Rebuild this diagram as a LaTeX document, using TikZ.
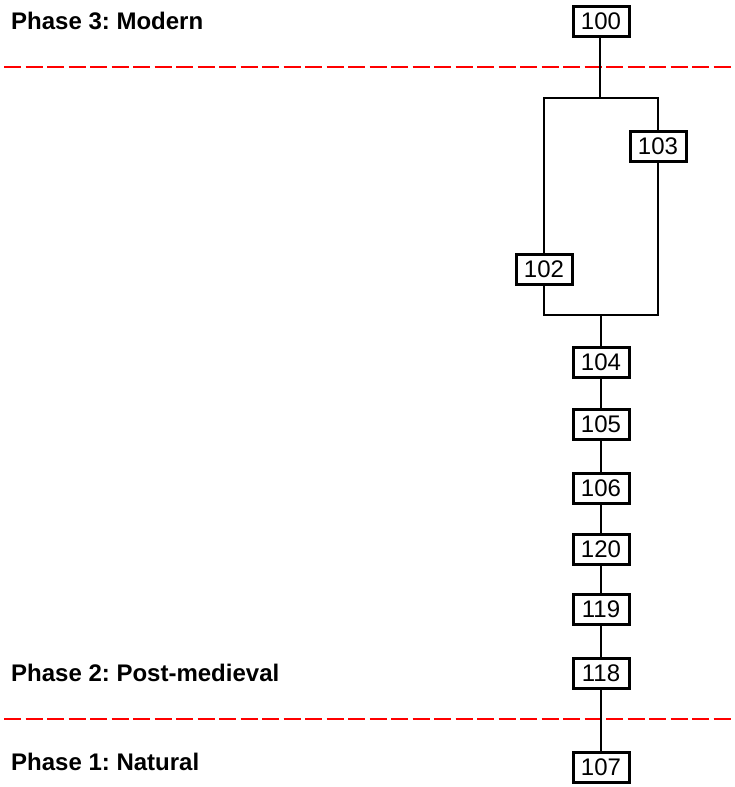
\documentclass[tikz,border=0pt]{standalone}
\usepackage{fontspec}
\setmainfont{Liberation Sans}
\frenchspacing
\begin{document}
\begin{tikzpicture}[x=1pt,y=-1pt,
  ctx/.style={draw=black,line width=3pt,minimum width=56pt,minimum height=30pt,
    inner sep=0pt,font=\fontsize{24}{28}\selectfont,fill=white},
  link/.style={draw=black,line width=2pt},
  phase/.style={red,line width=2pt,dash pattern=on 17pt off 4.5pt},
  phaselabel/.style={anchor=base west,inner sep=0pt,font=\fontsize{24}{28}\selectfont\bfseries}]
\useasboundingbox (0,0) rectangle (735,787);

% phase boundaries
\coordinate (b1a) at (4,66.5);  \coordinate (b1b) at (735,66.5);
\coordinate (b2a) at (4,719);   \coordinate (b2b) at (735,719);
\draw[phase] (b1a) -- (b1b);
\draw[phase] (b2a) -- (b2b);

% phase labels
\node[phaselabel] (p3) at (11,29.3) {Phase 3: Modern};
\node[phaselabel] (p2) at (11,681.7) {Phase 2: Post-medieval};
\node[phaselabel] (p1) at (11,770) {Phase 1: Natural};

% junctions
\coordinate (j1) at (600,98);
\coordinate (j2) at (601,315);

% contexts
\node[ctx] (c100) at (601,21.5) {100};
\node[ctx] (c103) at (658,146) {103};
\node[ctx] (c102) at (544,269.5) {102};
\node[ctx] (c104) at (601,362.5) {104};
\node[ctx] (c105) at (601,424.5) {105};
\node[ctx] (c106) at (601,488.5) {106};
\node[ctx] (c120) at (601,549) {120};
\node[ctx] (c119) at (601,609.5) {119};
\node[ctx] (c118) at (601,673.5) {118};
\node[ctx] (c107) at (601,767) {107};

% stratigraphic links
\draw[link] (c100.south -| j1) -- (j1);
\draw[link] (c102.north) -- (c102.north |- j1) -- (c103.north |- j1) -- (c103.north);
\draw[link] (c102.south) -- (c102.south |- j2) -- (c103.south |- j2) -- (c103.south);
\draw[link] (j2) -- (c104.north);
\draw[link] (c104) -- (c105);
\draw[link] (c105) -- (c106);
\draw[link] (c106) -- (c120);
\draw[link] (c120) -- (c119);
\draw[link] (c119) -- (c118);
\draw[link] (c118) -- (c107);
\end{tikzpicture}
\end{document}
